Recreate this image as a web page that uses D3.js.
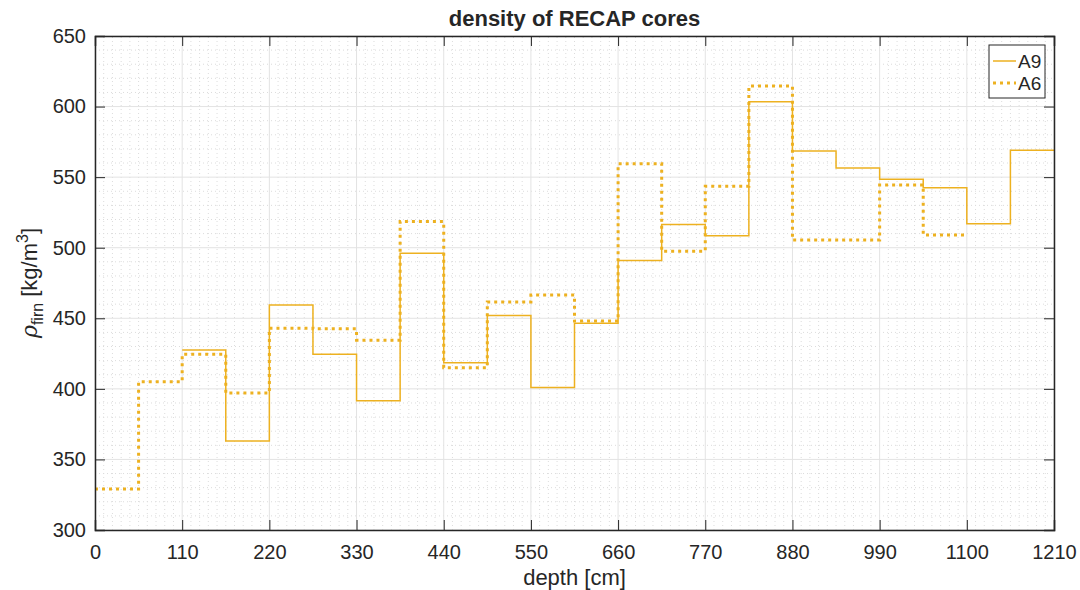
<!DOCTYPE html>
<html>
<head>
<meta charset="utf-8">
<script src="https://d3js.org/d3.v7.min.js"></script>
<style>
  body { margin: 0; background: #fff; }
  text { font-family: "Liberation Sans", Arial, sans-serif; fill: #262626; }
</style>
</head>
<body>
<div id="chart"></div>
<script>
// depth layer edges (cm) and density values (kg/m^3)
const a9Depth = [110, 165, 220, 275, 330, 385, 440, 495, 550, 605, 660, 715, 770, 825, 880, 935, 990, 1045, 1100, 1155, 1210];
const a9Density = [427.5, 363, 459.5, 424.5, 391.5, 496, 418.5, 452, 401, 446.5, 491, 516.5, 508.5, 603.5, 568.5, 556.5, 548.5, 542.5, 517, 569];

const a6Depth = [0, 55, 110, 165, 220, 275, 330, 385, 440, 495, 550, 605, 660, 715, 770, 825, 880, 935, 990, 1045, 1100];
const a6Density = [329, 405, 424.5, 397, 443, 442.5, 434.5, 518.5, 415, 461.5, 466.5, 448, 559.5, 497.5, 543.5, 614.5, 505.5, 505.5, 544.5, 509];

const xTicks = [0, 110, 220, 330, 440, 550, 660, 770, 880, 990, 1100, 1210];
const yTicks = [300, 350, 400, 450, 500, 550, 600, 650];

const width = 1080, height = 590;
const margin = { top: 36, right: 26, bottom: 60, left: 95 };
const lineColor = "#EDB120";

const svg = d3.select("#chart")
    .append("svg")
    .attr("width", width)
    .attr("height", height);

const x = d3.scaleLinear().domain([0, 1210]).range([margin.left, width - margin.right]);
const y = d3.scaleLinear().domain([300, 650]).range([height - margin.bottom, margin.top]);

const grid = svg.append("g");

// minor grid: 10 subdivisions on x, 5 on y
const xMinor = d3.range(0, 1210 + 0.1, 11).filter(v => v % 110 !== 0);
const yMinor = d3.range(300, 650 + 0.1, 10).filter(v => v % 50 !== 0);

grid.selectAll(".xminor").data(xMinor).enter().append("line")
    .attr("x1", d => x(d)).attr("x2", d => x(d))
    .attr("y1", y(300)).attr("y2", y(650))
    .attr("stroke", "#dcdcdc").attr("stroke-width", 1)
    .attr("stroke-dasharray", "1,3");
grid.selectAll(".yminor").data(yMinor).enter().append("line")
    .attr("x1", x(0)).attr("x2", x(1210))
    .attr("y1", d => y(d)).attr("y2", d => y(d))
    .attr("stroke", "#dcdcdc").attr("stroke-width", 1)
    .attr("stroke-dasharray", "1,3");

// major grid
grid.selectAll(".xmajor").data(xTicks).enter().append("line")
    .attr("x1", d => x(d)).attr("x2", d => x(d))
    .attr("y1", y(300)).attr("y2", y(650))
    .attr("stroke", "#e3e3e3").attr("stroke-width", 1);
grid.selectAll(".ymajor").data(yTicks).enter().append("line")
    .attr("x1", x(0)).attr("x2", x(1210))
    .attr("y1", d => y(d)).attr("y2", d => y(d))
    .attr("stroke", "#e3e3e3").attr("stroke-width", 1);

// step lines
function steps(depth, vals) {
    const pts = vals.map((v, i) => [depth[i], v]);
    pts.push([depth[depth.length - 1], vals[vals.length - 1]]);
    return pts;
}
const line = d3.line()
    .x(d => x(d[0]))
    .y(d => y(d[1]))
    .curve(d3.curveStepAfter);

svg.append("path")
    .datum(steps(a9Depth, a9Density))
    .attr("d", line)
    .attr("fill", "none")
    .attr("stroke", lineColor)
    .attr("stroke-width", 1.5);

svg.append("path")
    .datum(steps(a6Depth, a6Density))
    .attr("d", line)
    .attr("fill", "none")
    .attr("stroke", lineColor)
    .attr("stroke-width", 3)
    .attr("stroke-dasharray", "3,4");

// axes (ticks pointing inward, box on all sides)
const axisColor = "#262626";
const fmt = d3.format("d");
const xAxis = svg.append("g")
    .attr("transform", `translate(0,${y(300)})`)
    .call(d3.axisBottom(x).tickValues(xTicks).tickFormat(fmt).tickSize(-10).tickPadding(15));
const xTop = svg.append("g")
    .attr("transform", `translate(0,${y(650)})`)
    .call(d3.axisTop(x).tickValues(xTicks).tickSize(-10).tickFormat(""));
const yAxis = svg.append("g")
    .attr("transform", `translate(${x(0)},0)`)
    .call(d3.axisLeft(y).tickValues(yTicks).tickFormat(fmt).tickSize(-10).tickPadding(17));
const yRight = svg.append("g")
    .attr("transform", `translate(${x(1210)},0)`)
    .call(d3.axisRight(y).tickValues(yTicks).tickSize(-10).tickFormat(""));

[xAxis, xTop, yAxis, yRight].forEach(g => {
    g.selectAll("path").attr("stroke", axisColor).attr("stroke-width", 1.5);
    g.selectAll("line").attr("stroke", axisColor).attr("stroke-width", 1);
    g.selectAll("text").attr("font-size", 20).attr("fill", axisColor)
        .attr("font-family", "Liberation Sans, Arial, sans-serif");
});
xAxis.selectAll("text").attr("dy", "0.71em");
yAxis.selectAll("text").attr("dx", 8);

// title
svg.append("text")
    .attr("x", (x(0) + x(1210)) / 2)
    .attr("y", 26)
    .attr("text-anchor", "middle")
    .attr("font-size", 22)
    .attr("font-weight", "bold")
    .attr("fill", "#000")
    .text("density of RECAP cores");

// x label
svg.append("text")
    .attr("x", (x(0) + x(1210)) / 2)
    .attr("y", 585)
    .attr("text-anchor", "middle")
    .attr("font-size", 22)
    .text("depth [cm]");

// y label
const yl = svg.append("text")
    .attr("transform", `translate(37,${(y(300) + y(650)) / 2}) rotate(-90)`)
    .attr("text-anchor", "middle")
    .attr("font-size", 22);
yl.append("tspan").attr("font-style", "italic").attr("font-family", "DejaVu Serif, serif").text("ρ");
yl.append("tspan").attr("font-size", 16).attr("dy", 6).text("firn");
yl.append("tspan").attr("dy", -6).text(" [kg/m");
yl.append("tspan").attr("font-size", 16).attr("dy", -9).text("3");
yl.append("tspan").attr("dy", 9).text("]");

// legend
const lg = svg.append("g").attr("transform", "translate(989,45)");
lg.append("rect")
    .attr("width", 56).attr("height", 53)
    .attr("fill", "#fff")
    .attr("stroke", axisColor).attr("stroke-width", 1);
const legendItems = [
    { name: "A9", width: 1.5, dash: null },
    { name: "A6", width: 3, dash: "3,4" }
];
legendItems.forEach((d, i) => {
    const cy = 16 + i * 22;
    lg.append("line")
        .attr("x1", 4).attr("x2", 27)
        .attr("y1", cy).attr("y2", cy)
        .attr("stroke", lineColor)
        .attr("stroke-width", d.width)
        .attr("stroke-dasharray", d.dash);
    lg.append("text")
        .attr("x", 29).attr("y", cy)
        .attr("dy", "0.35em")
        .attr("font-size", 19)
        .attr("fill", "#000")
        .text(d.name);
});
</script>
</body>
</html>
